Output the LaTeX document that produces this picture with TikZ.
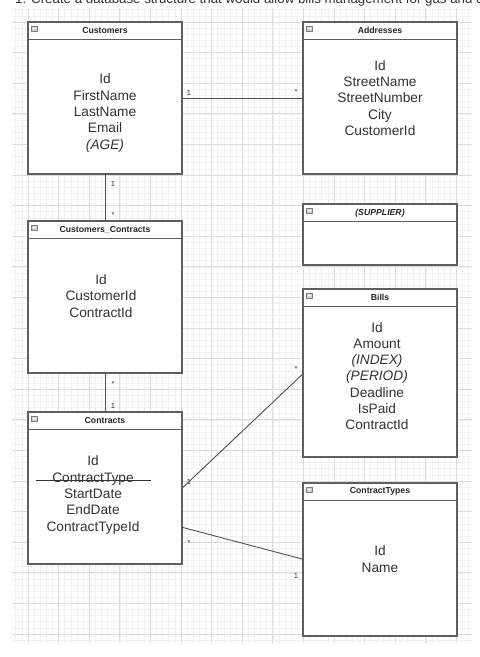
\documentclass[tikz,border=0pt]{standalone}
\usepackage{fontspec}
\setmainfont{Liberation Sans}
\usepackage{xcolor}
\usepackage{tikz}
\usetikzlibrary{positioning}

\definecolor{boxgray}{HTML}{5F5F5F}
\definecolor{linegray}{HTML}{505050}
\definecolor{txtgray}{HTML}{333333}
\definecolor{gridmin}{HTML}{F1F1F1}
\definecolor{gridmaj}{HTML}{DCDCDC}

\begin{document}
\begin{tikzpicture}[x=1pt,y=-1pt,
    tbl/.style={draw=boxgray,line width=1.3pt,fill=white,minimum width=154pt,inner sep=0pt,outer sep=0pt},
    tblhead/.style={tbl,minimum height=17.5pt,text=black!85,font=\bfseries\fontsize{8.7}{10}\selectfont},
    tblbody/.style={tbl},
    fields/.style={align=center,inner sep=0pt,text=txtgray,font=\fontsize{13.7}{16.3}\selectfont},
    fold/.style={draw=gray,fill=gray!35,line width=0.5pt,minimum width=6pt,minimum height=5pt,inner sep=0pt,
      path picture={\draw[white,line width=0.7pt] ([xshift=1.2pt]path picture bounding box.west) -- ([xshift=-1.2pt]path picture bounding box.east);}},
    link/.style={draw=linegray,line width=0.9pt},
    mult/.style={inner sep=0pt,text=txtgray,font=\fontsize{7.5}{8}\selectfont}
  ]
    \useasboundingbox[fill=white] (0,0) rectangle (480,657);
    % background grid
    \begin{scope}
      \clip (12,8) rectangle (472,642);
      \draw[gridmin,line width=0.6pt,step=6.12pt,shift={(28,22)}] (-18,622) grid (446,-16);
      \draw[gridmaj,line width=0.7pt,step=30.6pt,shift={(28,22)}] (-18,622) grid (446,-16);
    \end{scope}
    \node[anchor=base west,inner sep=0pt,text=txtgray,font=\fontsize{13.3}{15}\selectfont] (task) at (15,3.5)
      {1. Create a database structure that would allow bills management for gas and electricity};

    % left column
    \node[tblhead,anchor=north west] (custhead) at (28,22) {Customers};
    \node[tblbody,minimum height=134.5pt,below=0pt of custhead] (custbody) {};
    \node[fields] (custfields) at (105,113) {Id\\FirstName\\LastName\\Email\\\textit{(AGE)}};

    \node[tblhead,anchor=north west] (cchead) at (28,221) {Customers\_Contracts};
    \node[tblbody,minimum height=134.5pt,below=0pt of cchead] (ccbody) {};
    \node[fields] (ccfields) at (101,296) {Id\\CustomerId\\ContractId};

    \node[tblhead,anchor=north west] (conhead) at (28,412) {Contracts};
    \node[tblbody,minimum height=134.5pt,below=0pt of conhead] (conbody) {};
    \node[fields] (confields) at (93,495) {Id\\ContractType\\StartDate\\EndDate\\ContractTypeId};
    \draw[txtgray,line width=0.9pt] (36,480) -- (151,480);

    % right column
    \node[tblhead,anchor=north west] (addrhead) at (303,22) {Addresses};
    \node[tblbody,minimum height=134.5pt,below=0pt of addrhead] (addrbody) {};
    \node[fields] (addrfields) at (380,98) {Id\\StreetName\\StreetNumber\\City\\CustomerId};

    \node[tblhead,anchor=north west] (suphead) at (303,204) {\itshape (SUPPLIER)};
    \node[tblbody,minimum height=43.5pt,below=0pt of suphead] (supbody) {};

    \node[tblhead,anchor=north west] (billhead) at (303,289) {Bills};
    \node[tblbody,minimum height=150.5pt,below=0pt of billhead] (billbody) {};
    \node[fields] (billfields) at (377,376) {Id\\Amount\\\textit{(INDEX)}\\\textit{(PERIOD)}\\Deadline\\IsPaid\\ContractId};

    \node[tblhead,anchor=north west] (cthead) at (303,483) {ContractTypes};
    \node[tblbody,minimum height=135.5pt,below=0pt of cthead] (ctbody) {};
    \node[fields] (ctfields) at (380,559) {Id\\Name};

    % fold icons
    \node[fold] (custfold) at ([shift={(6.5pt,-6.5pt)}]custhead.north west) {};
    \node[fold] (ccfold) at ([shift={(6.5pt,-6.5pt)}]cchead.north west) {};
    \node[fold] (confold) at ([shift={(6.5pt,-6.5pt)}]conhead.north west) {};
    \node[fold] (addrfold) at ([shift={(6.5pt,-6.5pt)}]addrhead.north west) {};
    \node[fold] (supfold) at ([shift={(6.5pt,-6.5pt)}]suphead.north west) {};
    \node[fold] (billfold) at ([shift={(6.5pt,-6.5pt)}]billhead.north west) {};
    \node[fold] (ctfold) at ([shift={(6.5pt,-6.5pt)}]cthead.north west) {};

    % relations
    \draw[link] ([yshift=8.5pt]custbody.east) -- ([yshift=8.5pt]addrbody.west)
      node[mult,at start,xshift=7pt,yshift=5pt] {1}
      node[mult,at end,xshift=-7pt,yshift=6pt] {*};
    \draw[link] (custbody.south) -- (cchead.north)
      node[mult,at start,xshift=8pt,yshift=-10pt] {1}
      node[mult,at end,xshift=8pt,yshift=6pt] {*};
    \draw[link] (ccbody.south) -- (conhead.north)
      node[mult,at start,xshift=8pt,yshift=-11pt] {*}
      node[mult,at end,xshift=8pt,yshift=6pt] {1};
    \draw[link] ([yshift=8.5pt]conbody.east) -- ([yshift=8pt]billbody.west)
      node[mult,at start,xshift=7pt,yshift=6pt] {1}
      node[mult,at end,xshift=-7pt,yshift=5pt] {*};
    \draw[link] ([yshift=-30.5pt]conbody.east) -- ([yshift=9pt]ctbody.west)
      node[mult,at start,xshift=7pt,yshift=-16pt] {*}
      node[mult,at end,xshift=-7pt,yshift=-17pt] {1};
\end{tikzpicture}
\end{document}
